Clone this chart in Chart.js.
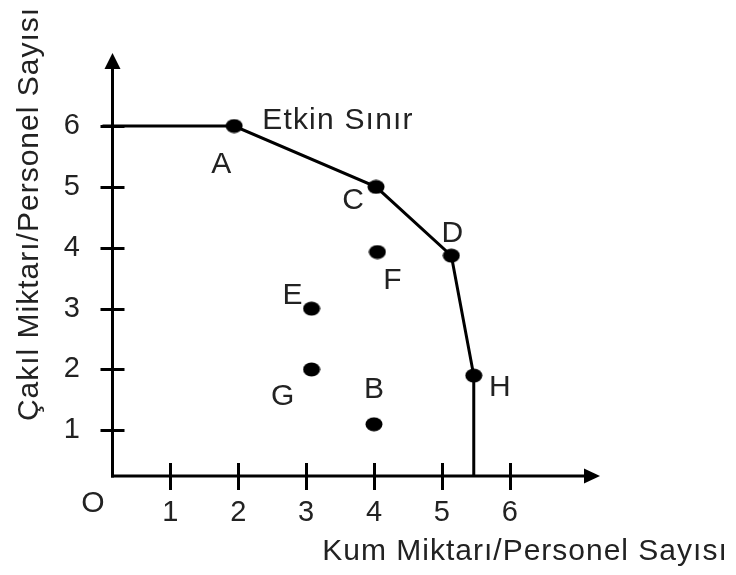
<!DOCTYPE html>
<html><head><meta charset="utf-8">
<script src="https://cdn.jsdelivr.net/npm/chart.js@4/dist/chart.umd.min.js"></script>
<style>html,body{margin:0;padding:0;background:#fff}#wrap{width:736px;height:575px}</style>
</head><body><div id="wrap"><canvas id="c" width="736" height="575"></canvas></div>
<script>
// ---- data ----
const xTitle = 'Kum Miktarı/Personel Sayısı';
const yTitle = 'Çakıl Miktarı/Personel Sayısı';
const frontierLabel = 'Etkin Sınır';
const originLabel = 'O';
const xTickValues = [1, 2, 3, 4, 5, 6];
const yTickValues = [1, 2, 3, 4, 5, 6];
// efficient boundary (start on y-axis, A, C, D, H, end on x-axis)
const boundaryNames = ['', 'A', 'C', 'D', 'H', ''];
const boundaryX = [0, 1.94, 4.03, 5.14, 5.47, 5.47];
const boundaryY = [6, 6, 5, 3.87, 1.9, 0];
// interior points
const interiorNames = ['E', 'F', 'G', 'B'];
const interiorX = [3.08, 4.05, 3.08, 4.0];
const interiorY = [3.0, 3.93, 2.0, 1.1];

// ---- styles ----
const FONT = '"Liberation Sans", Arial, sans-serif';
const TEXT_COLOR = '#222';
const labelOffsets = { A: [-13, 47], C: [-23, 22], D: [1, -14], H: [26, 20],
                       E: [-19, -5], F: [15, 37], G: [-29, 36], B: [0, -26] };

const dot = (() => {
  const c = document.createElement('canvas'); c.width = 18; c.height = 15;
  const g = c.getContext('2d'); g.fillStyle = '#000';
  g.beginPath(); g.ellipse(9, 7.5, 8.5, 7, 0, 0, Math.PI * 2); g.fill();
  return c;
})();

const axesPlugin = {
  id: 'axes',
  beforeDatasetsDraw(chart) {
    const { ctx, chartArea: a, scales: { x, y } } = chart;
    ctx.save();
    ctx.strokeStyle = '#000'; ctx.fillStyle = '#000'; ctx.lineWidth = 3; ctx.lineCap = 'butt';
    const ox = a.left + 0.5, oy = a.bottom;
    ctx.beginPath(); ctx.moveTo(ox, oy + 1.5); ctx.lineTo(ox, a.top + 12); ctx.stroke();
    ctx.beginPath(); ctx.moveTo(ox - 1.5, oy); ctx.lineTo(a.right - 12, oy); ctx.stroke();
    ctx.beginPath(); ctx.moveTo(ox, a.top); ctx.lineTo(ox - 8, a.top + 16); ctx.lineTo(ox + 8, a.top + 16); ctx.closePath(); ctx.fill();
    ctx.beginPath(); ctx.moveTo(a.right, oy); ctx.lineTo(a.right - 16, oy - 7.5); ctx.lineTo(a.right - 16, oy + 7.5); ctx.closePath(); ctx.fill();
    x.ticks.forEach(t => { const px = Math.round(x.getPixelForValue(t.value)) + 0.5;
      ctx.beginPath(); ctx.moveTo(px, oy - 13); ctx.lineTo(px, oy + 14); ctx.stroke(); });
    y.ticks.forEach(t => { const py = Math.round(y.getPixelForValue(t.value)) + 0.5;
      ctx.beginPath(); ctx.moveTo(ox - 12, py); ctx.lineTo(ox + 12, py); ctx.stroke(); });
    ctx.restore();
  }
};

const labelsPlugin = {
  id: 'labels',
  afterDatasetsDraw(chart) {
    const { ctx, chartArea: a, scales: { x, y } } = chart;
    ctx.save();
    ctx.fillStyle = TEXT_COLOR;
    ctx.font = '30px ' + FONT;
    ctx.textAlign = 'center'; ctx.textBaseline = 'alphabetic';
    const named = [];
    boundaryNames.forEach((n, i) => { if (n) named.push([n, boundaryX[i], boundaryY[i]]); });
    interiorNames.forEach((n, i) => named.push([n, interiorX[i], interiorY[i]]));
    named.forEach(([n, vx, vy]) => {
      const o = labelOffsets[n] || [0, -14];
      ctx.fillText(n, x.getPixelForValue(vx) + o[0], y.getPixelForValue(vy) + o[1]);
    });
    // origin label
    ctx.fillText(originLabel, a.left - 19, a.bottom + 36);
    // frontier label next to A
    const ai = boundaryNames.indexOf('A');
    ctx.textAlign = 'left';
    try { ctx.letterSpacing = '1.2px'; } catch (e) {}
    ctx.fillText(frontierLabel, x.getPixelForValue(boundaryX[ai]) + 28, y.getPixelForValue(boundaryY[ai]) + 3);
    // axis titles
    try { ctx.letterSpacing = '1px'; } catch (e) {}
    ctx.textAlign = 'center';
    ctx.fillText(xTitle, 525, 560);
    ctx.translate(38, 214); ctx.rotate(-Math.PI / 2);
    ctx.fillText(yTitle, 0, 0);
    ctx.restore();
  }
};

const tickFont = { family: FONT, size: 29 };

new Chart(document.getElementById('c'), {
  type: 'scatter',
  data: {
    datasets: [
      {
        label: 'Etkin Sınır',
        data: boundaryX.map((vx, i) => ({ x: vx, y: boundaryY[i] })),
        showLine: true, tension: 0,
        borderColor: '#000', backgroundColor: '#000', borderWidth: 3,
        pointStyle: dot,
        pointRadius: ctx => (boundaryNames[ctx.dataIndex] ? 8 : 0),
        pointHoverRadius: ctx => (boundaryNames[ctx.dataIndex] ? 8 : 0),
        clip: { left: 20, top: 20, right: 20, bottom: 0 }
      },
      {
        label: 'Diğer',
        data: interiorX.map((vx, i) => ({ x: vx, y: interiorY[i] })),
        showLine: false,
        borderColor: '#000', backgroundColor: '#000',
        pointStyle: dot, pointRadius: 8, pointHoverRadius: 8
      }
    ]
  },
  options: {
    responsive: false, animation: false, devicePixelRatio: 1, events: [],
    layout: { padding: { top: 53, right: 136, left: 0, bottom: 0 } },
    plugins: { legend: { display: false }, tooltip: { enabled: false } },
    scales: {
      x: {
        type: 'linear', min: 0.14, max: 7.33,
        afterFit: s => { s.height = 99; },
        afterBuildTicks: s => { s.ticks = xTickValues.map(v => ({ value: v })); },
        grid: { display: false, drawTicks: false }, border: { display: false },
        ticks: { padding: 20, font: tickFont, color: TEXT_COLOR, maxRotation: 0, autoSkip: false }
      },
      y: {
        type: 'linear', min: 0.25, max: 7.2,
        afterFit: s => { s.width = 112; },
        afterBuildTicks: s => { s.ticks = yTickValues.map(v => ({ value: v })); },
        grid: { display: false, drawTicks: false }, border: { display: false },
        ticks: { padding: 32, font: tickFont, color: TEXT_COLOR, autoSkip: false }
      }
    }
  },
  plugins: [axesPlugin, labelsPlugin]
});
</script>
</body></html>
